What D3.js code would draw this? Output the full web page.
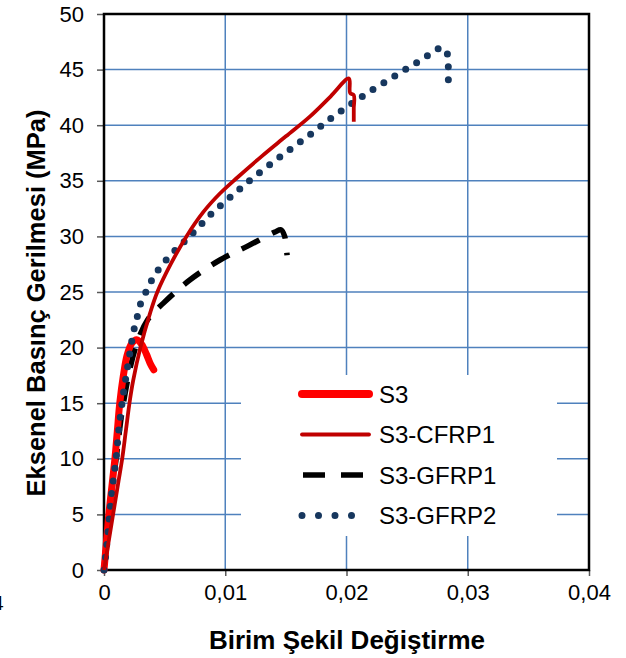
<!DOCTYPE html>
<html>
<head>
<meta charset="utf-8">
<script src="https://cdn.jsdelivr.net/npm/d3@7"></script>
<style>
  body { margin: 0; background: #fff; }
  text { font-family: "Liberation Sans", Arial, sans-serif; }
</style>
</head>
<body>
<div id="chart-area"></div>
<script>
// strain (x) vs axial stress in MPa (y)
const S3 = [[0,0],[0.0002,2.5],[0.0004,5],[0.0007,8],[0.0009,10],[0.0011,12.5],[0.0013,15],[0.0016,17.5],
  [0.0019,19.3],[0.0023,20.4],[0.0027,20.7],[0.0031,20.3],[0.0035,19.4],[0.0038,18.6],[0.0041,18.0]]

const S3_CFRP1 = [[0,0],[0.0003,2],[0.0006,4],[0.0009,6],[0.0012,8],[0.0015,10],[0.0018,12.5],[0.0021,15],
  [0.0024,17],[0.003,20],[0.0038,23.1],[0.0044,25],[0.0055,27.5],[0.0068,30],[0.0082,32.2],[0.0096,33.9],
  [0.011,35.3],[0.013,37.2],[0.015,39.0],[0.017,40.8],[0.0187,42.6],[0.0202,44.2],[0.0203,42.9],
  [0.0206,42.7],[0.0206,41.5],[0.0206,40.3]]

const S3_GFRP1 = [[0,0],[0.0004,5],[0.001,10],[0.0016,15],[0.0026,20],[0.0036,22.5],[0.0049,24],[0.0071,26.1],
  [0.0096,27.9],[0.0118,29.1],[0.0141,30.4],[0.0146,30.6],[0.0149,30],[0.015,29.3],[0.0151,28.3]]

const S3_GFRP2 = [[0,0],[0.00016,1.5],[0.0004,4.3],[0.00066,7.2],[0.001,10],[0.00124,12.9],[0.00157,15.7],
  [0.00198,18.5],[0.0024,21.3],[0.003,23.9],[0.0035,25.1],[0.004,26.2],[0.0046,27.2],[0.0053,28.1],
  [0.006,28.9],[0.0068,29.7],[0.0075,30.5],[0.009,32.2],[0.0106,33.7],[0.0123,35.3],[0.0147,37.3],
  [0.0173,39.4],[0.0188,40.7],[0.0205,42.0],[0.0223,43.3],[0.0241,44.5],[0.0259,45.7],[0.0276,46.9],
  [0.0283,46.7],[0.0284,45.2],[0.0284,43.8]]

const SERIES_NAMES = ["S3", "S3-CFRP1", "S3-GFRP1", "S3-GFRP2"]
const X_TICKS = [0, 0.01, 0.02, 0.03, 0.04]
const Y_TICKS = [0, 5, 10, 15, 20, 25, 30, 35, 40, 45, 50]

const MARGIN = { LEFT: 104, RIGHT: 37, TOP: 14, BOTTOM: 88 }
const WIDTH = 626 - MARGIN.LEFT - MARGIN.RIGHT
const HEIGHT = 658 - MARGIN.TOP - MARGIN.BOTTOM
const GRID = "#4f81bd"

const svg = d3.select("#chart-area")
  .append("svg")
  .attr("width", 626)
  .attr("height", 658)

const chart = svg.append("g")
  .attr("transform", `translate(${MARGIN.LEFT}, ${MARGIN.TOP})`)

const x = d3.scaleLinear().domain([0, 0.04]).range([0, WIDTH])
const y = d3.scaleLinear().domain([0, 50]).range([HEIGHT, 0])

// grid
chart.append("g").selectAll("line").data(Y_TICKS.slice(1, -1)).enter()
  .append("line")
  .attr("x1", 0).attr("x2", WIDTH)
  .attr("y1", d => y(d)).attr("y2", d => y(d))
  .attr("stroke", GRID).attr("stroke-width", 1.5)
chart.append("g").selectAll("line").data(X_TICKS.slice(1, -1)).enter()
  .append("line")
  .attr("y1", 0).attr("y2", HEIGHT)
  .attr("x1", d => x(d)).attr("x2", d => x(d))
  .attr("stroke", GRID).attr("stroke-width", 1.5)

// axes
const fmt = d => d === 0 ? "0" : d3.format(".2f")(d).replace(".", ",")
const xAxis = d3.axisBottom(x).tickValues(X_TICKS).tickFormat(fmt).tickSize(6).tickPadding(8)
const yAxis = d3.axisLeft(y).tickValues(Y_TICKS).tickSize(7).tickPadding(13)

const xAxisGroup = chart.append("g")
  .attr("transform", `translate(0, ${HEIGHT})`)
  .call(xAxis)
const yAxisGroup = chart.append("g").call(yAxis)

;[xAxisGroup, yAxisGroup].forEach(g => {
  g.select(".domain").remove()
  g.selectAll(".tick line").attr("stroke", "#595959").attr("stroke-width", 1.5)
  g.selectAll(".tick text").attr("font-size", 22).attr("fill", "#000")
    .style("font-family", "'Liberation Sans', Arial, sans-serif")
})

// frame
chart.append("rect")
  .attr("width", WIDTH).attr("height", HEIGHT)
  .attr("fill", "none").attr("stroke", "#000").attr("stroke-width", 2.5)

// series
const smooth = d3.line().x(d => x(d[0])).y(d => y(d[1])).curve(d3.curveCatmullRom.alpha(0.5))
const straight = d3.line().x(d => x(d[0])).y(d => y(d[1]))

chart.append("path").datum(S3_GFRP1).attr("d", smooth)
  .attr("fill", "none").attr("stroke", "#000").attr("stroke-width", 5.5)
  .attr("stroke-dasharray", "20,14")
chart.append("path").datum(S3).attr("d", smooth)
  .attr("fill", "none").attr("stroke", "#ff0000").attr("stroke-width", 7)
  .attr("stroke-linecap", "round").attr("stroke-linejoin", "round")
chart.append("path").datum(S3_GFRP2).attr("d", straight)
  .attr("fill", "none").attr("stroke", "#17375e").attr("stroke-width", 7)
  .attr("stroke-linecap", "round").attr("stroke-dasharray", "0,12.8")
chart.append("path").datum(S3_CFRP1).attr("d", smooth)
  .attr("fill", "none").attr("stroke", "#c00000").attr("stroke-width", 3.8)
  .attr("stroke-linejoin", "round")

// legend
const legend = svg.append("g")
legend.append("rect")
  .attr("x", 241).attr("y", 375).attr("width", 316).attr("height", 161)
  .attr("fill", "#fff")

const LEGEND_STYLE = [
  { stroke: "#ff0000", width: 8, dash: null, cap: "round" },
  { stroke: "#c00000", width: 3.8, dash: null, cap: "round" },
  { stroke: "#000", width: 5.5, dash: "22,16", cap: "butt" },
  { stroke: "#17375e", width: 7, dash: "0,16.5", cap: "round" }
]
const rows = legend.selectAll("g.row").data(SERIES_NAMES).enter()
  .append("g")
  .attr("transform", (d, i) => `translate(0, ${394 + i * 40.5})`)
rows.append("line")
  .attr("x1", (d, i) => i === 2 ? 303 : 302).attr("x2", (d, i) => i === 3 ? 368 : 369)
  .attr("stroke", (d, i) => LEGEND_STYLE[i].stroke)
  .attr("stroke-width", (d, i) => LEGEND_STYLE[i].width)
  .attr("stroke-dasharray", (d, i) => LEGEND_STYLE[i].dash)
  .attr("stroke-linecap", (d, i) => LEGEND_STYLE[i].cap)
rows.append("text")
  .attr("x", 379).attr("y", 8.5)
  .attr("font-size", 24)
  .text(d => d)

// axis titles
svg.append("text")
  .attr("x", 347).attr("y", 649)
  .attr("text-anchor", "middle")
  .attr("font-size", 26).attr("font-weight", "bold")
  .text("Birim Şekil Değiştirme")
svg.append("text")
  .attr("transform", "translate(45, 303) rotate(-90)")
  .attr("text-anchor", "middle")
  .attr("font-size", 25.5).attr("font-weight", "bold")
  .text("Eksenel Basınç Gerilmesi (MPa)")

// stray glyph at the left edge of the picture
svg.append("text").attr("x", -8).attr("y", 610).attr("font-size", 21).text("4")
</script>
</body>
</html>
